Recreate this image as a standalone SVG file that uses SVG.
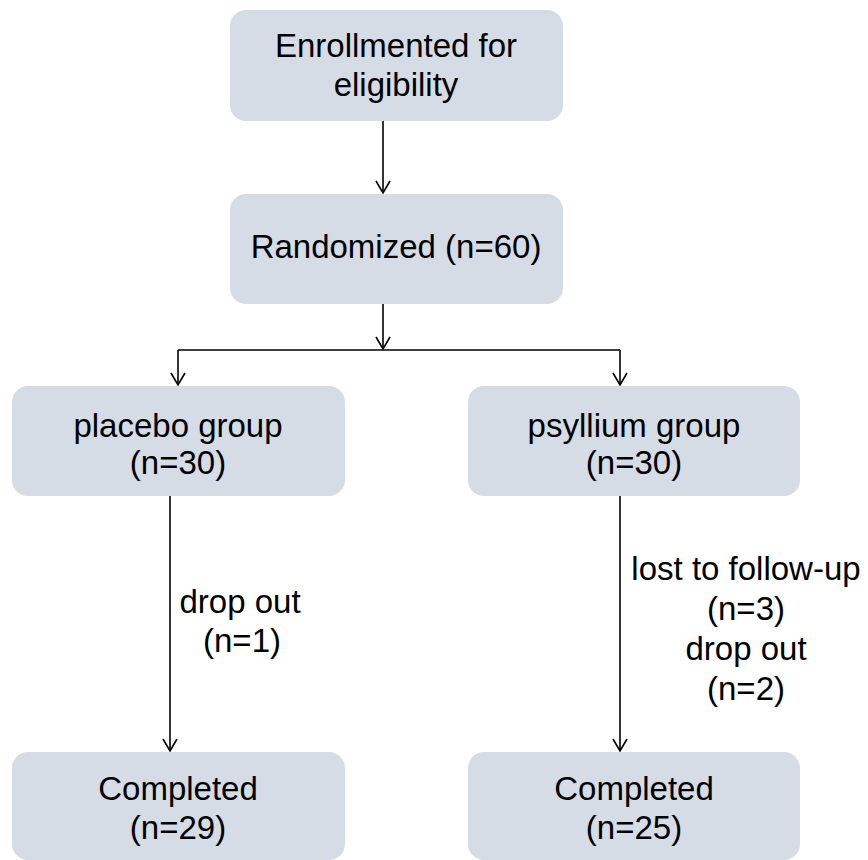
<svg xmlns="http://www.w3.org/2000/svg" width="868" height="860" viewBox="0 0 868 860">
<style>
.box{fill:#d6dce5;}
.t{font-family:"Liberation Sans",Arial,sans-serif;font-size:33px;fill:#000;text-anchor:middle;}
.c{stroke:#000;stroke-width:1.6;fill:none;}
</style>
<defs>
<marker id="ah" viewBox="0 0 16 16" refX="14" refY="8" markerWidth="16" markerHeight="16" markerUnits="userSpaceOnUse" orient="auto">
<path d="M2,1 L14,8 L2,15" fill="none" stroke="#000" stroke-width="1.6"/>
</marker>
</defs>
<rect width="868" height="860" fill="#fff"/>
<g id="connectors">
<line class="c" x1="383" y1="121" x2="383" y2="193" marker-end="url(#ah)"/>
<line class="c" x1="383" y1="304" x2="383" y2="349" marker-end="url(#ah)"/>
<polyline class="c" points="178,350 620,350"/>
<line class="c" x1="178" y1="350" x2="178" y2="385" marker-end="url(#ah)"/>
<line class="c" x1="620" y1="350" x2="620" y2="385" marker-end="url(#ah)"/>
<line class="c" x1="170" y1="496" x2="170" y2="751" marker-end="url(#ah)"/>
<line class="c" x1="620" y1="496" x2="620" y2="751" marker-end="url(#ah)"/>
<text class="t" x="240" y="613">drop out</text>
<text class="t" x="242" y="652">(n=1)</text>
<text class="t" x="746" y="580">lost to follow-up</text>
<text class="t" x="746" y="620">(n=3)</text>
<text class="t" x="746" y="660">drop out</text>
<text class="t" x="746" y="700">(n=2)</text>
</g>
<g id="enroll">
<rect class="box" x="230" y="10" width="333" height="111" rx="16"/>
<text class="t" x="396" y="57">Enrollmented for</text>
<text class="t" x="396" y="96">eligibility</text>
</g>
<g id="randomized">
<rect class="box" x="230" y="194" width="333" height="110" rx="16"/>
<text class="t" x="396" y="258">Randomized (n=60)</text>
</g>
<g id="placebo">
<rect class="box" x="12" y="386" width="333" height="110" rx="16"/>
<text class="t" x="178" y="437">placebo group</text>
<text class="t" x="178" y="474">(n=30)</text>
</g>
<g id="psyllium">
<rect class="box" x="468" y="386" width="332" height="110" rx="16"/>
<text class="t" x="634" y="437">psyllium group</text>
<text class="t" x="634" y="474">(n=30)</text>
</g>
<g id="completed-placebo">
<rect class="box" x="12" y="752" width="333" height="108" rx="16"/>
<text class="t" x="178" y="800">Completed</text>
<text class="t" x="178" y="839">(n=29)</text>
</g>
<g id="completed-psyllium">
<rect class="box" x="468" y="752" width="332" height="108" rx="16"/>
<text class="t" x="634" y="800">Completed</text>
<text class="t" x="634" y="839">(n=25)</text>
</g>
</svg>
